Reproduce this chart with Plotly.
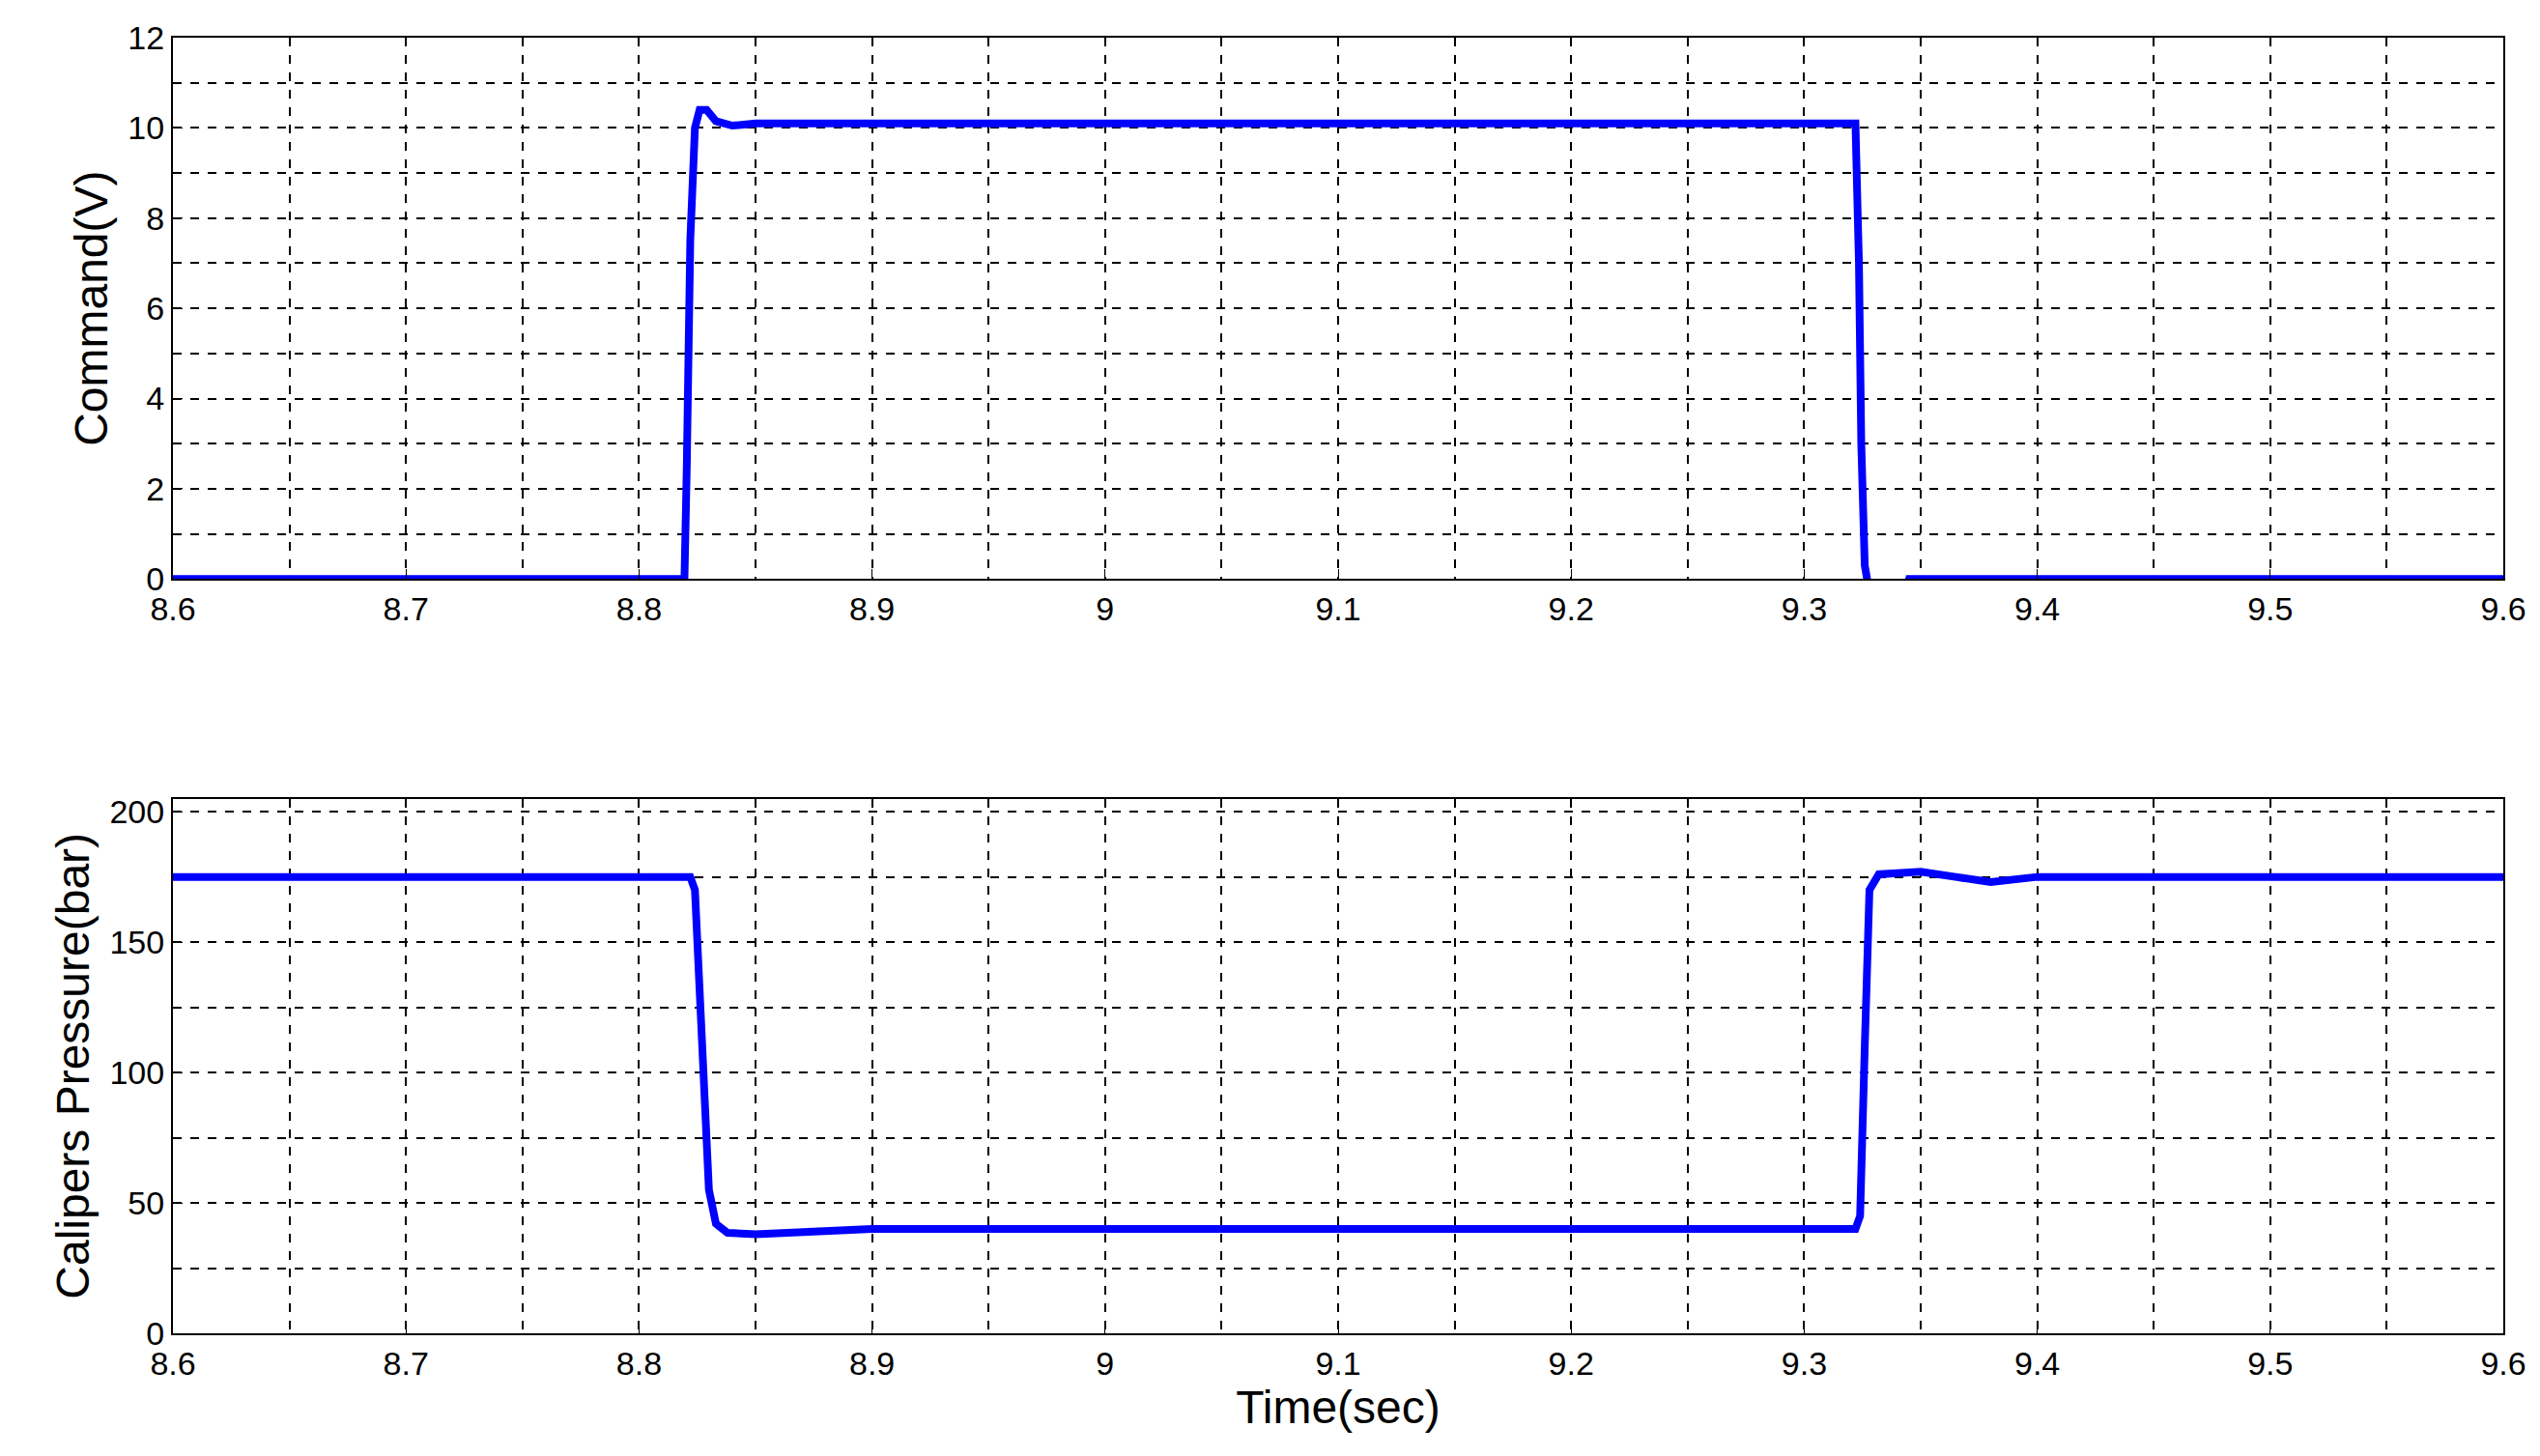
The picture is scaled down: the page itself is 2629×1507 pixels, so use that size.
import plotly.graph_objects as go
from plotly.subplots import make_subplots

# Command signal (V)
cmd_t = [8.6, 8.8195, 8.8205, 8.822, 8.824, 8.826, 8.829, 8.833, 8.84, 8.85, 9.322, 9.3235, 9.3245,
         9.326, 9.328, 9.343, 9.345, 9.6]
cmd_v = [0.0, 0.0, 2.5, 7.5, 10.0, 10.4, 10.4, 10.15, 10.05, 10.1, 10.1, 7.0, 3.0,
         0.3, -0.3, -0.3, 0.0, 0.0]

# Calipers pressure (bar)
p_t = [8.6, 8.822, 8.824, 8.826, 8.828, 8.830, 8.833, 8.838, 8.85, 8.87, 8.9, 9.322, 9.324,
       9.326, 9.328, 9.332, 9.35, 9.365, 9.38, 9.4, 9.6]
p_v = [175, 175, 170, 130, 90, 55, 42, 38.5, 38, 39, 40, 40, 45,
       110, 170, 176, 177, 175, 173, 175, 175]

fig = make_subplots(rows=2, cols=1, vertical_spacing=0.17)
line = dict(color="#0000ff", width=8)
fig.add_trace(go.Scatter(x=cmd_t, y=cmd_v, mode="lines", line=line), row=1, col=1)
fig.add_trace(go.Scatter(x=p_t, y=p_v, mode="lines", line=line), row=2, col=1)

grid = dict(showgrid=True, gridcolor="black", griddash="dash", gridwidth=1.5)
common = dict(showline=True, linecolor="black", linewidth=2, mirror=True, ticks="inside",
              ticklen=10, tickcolor="black", zeroline=False,
              tickfont=dict(family="Liberation Sans", size=34, color="black"), **grid)
for r in (1, 2):
    fig.update_xaxes(range=[8.6, 9.6], dtick=0.1, tickformat="~g",
                     minor=dict(dtick=0.05, ticks="", **grid), row=r, col=1, **common)
fig.update_yaxes(range=[0, 12], dtick=2, minor=dict(dtick=1, **grid), row=1, col=1, **common)
fig.update_yaxes(range=[0, 205], dtick=50, minor=dict(dtick=25, **grid), row=2, col=1, **common)

tfont = dict(family="Liberation Sans", size=48, color="black")
fig.update_yaxes(title=dict(text="Command(V)", font=tfont, standoff=6), row=1, col=1)
fig.update_yaxes(title=dict(text="Calipers Pressure(bar)", font=tfont, standoff=6), row=2, col=1)
fig.update_xaxes(title=dict(text="Time(sec)", font=tfont, standoff=4), row=2, col=1)

fig.update_layout(width=2629, height=1507, showlegend=False, plot_bgcolor="white",
                  paper_bgcolor="white", margin=dict(l=171, r=46, t=27, b=135))
fig.layout.yaxis.domain = [1 - 562 / 1345, 1]
fig.layout.yaxis2.domain = [0, 555 / 1345]
fig.write_html("out.html")
